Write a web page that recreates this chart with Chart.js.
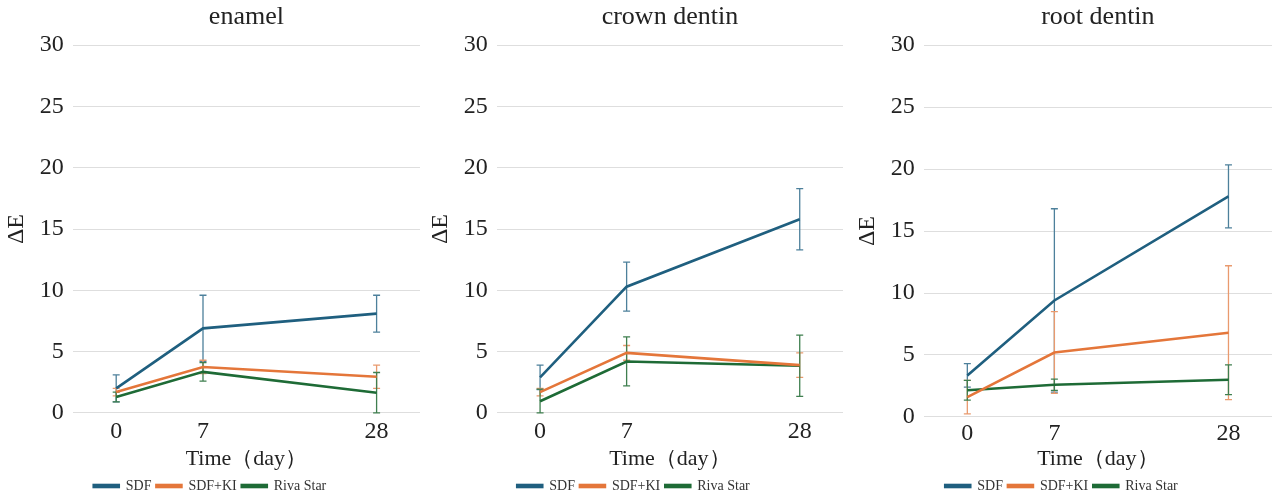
<!DOCTYPE html>
<html>
<head>
<meta charset="utf-8">
<script src="https://cdn.jsdelivr.net/npm/chart.js@4"></script>
<style>
  body { margin: 0; background: #fff; }
  .row { display: flex; width: 1272px; height: 497px; }
  .cell { position: relative; width: 424px; height: 497px; }
</style>
</head>
<body>
<div class="row">
  <div class="cell"><canvas id="c1"></canvas></div>
  <div class="cell"><canvas id="c2"></canvas></div>
  <div class="cell"><canvas id="c3"></canvas></div>
</div>
<script>
// time points and axis slots (28 sits two slots after 7)
const days = ['0', '7', '28'];
const slots = ['0', '7', '', '28'];
const seriesNames = ['SDF', 'SDF+KI', 'Riva Star'];
const panelTitles = ['enamel', 'crown dentin', 'root dentin'];

// enamel
const enamelSDF = [2.0, 6.9, 8.1];
const enamelSDFErr = [1.1, 2.7, 1.5];
const enamelKI = [1.7, 3.75, 2.95];
const enamelKIErr = [0.3, 0.55, 0.95];
const enamelRiva = [1.3, 3.35, 1.65];
const enamelRivaErr = [0.4, 0.75, 1.65];

// crown dentin
const crownSDF = [2.9, 10.3, 15.8];
const crownSDFErr = [1.0, 2.0, 2.5];
const crownKI = [1.7, 4.9, 3.9];
const crownKIErr = [0.3, 0.6, 1.0];
const crownRiva = [0.95, 4.2, 3.85];
const crownRivaErr = [1.0, 2.0, 2.5];

// root dentin
const rootSDF = [3.35, 9.4, 17.8];
const rootSDFErr = [0.95, 7.4, 2.55];
const rootKI = [1.6, 5.2, 6.8];
const rootKIErr = [1.35, 3.3, 5.4];
const rootRiva = [2.15, 2.6, 3.0];
const rootRivaErr = [0.8, 0.45, 1.2];

const lineColors = ['#1f5f7f', '#e4763a', '#1e6b36'];
const errColors = ['#4d809b', '#e99a6e', '#3f7f4f'];

Chart.defaults.font.family = "'Liberation Serif', 'DejaVu Serif', serif";
Chart.defaults.color = '#2a2a2a';

// simple error bar plugin: vertical line + caps
const errorBars = {
  id: 'errorBars',
  beforeDatasetsDraw(chart) {
    const ctx = chart.ctx;
    const yScale = chart.scales.y;
    chart.data.datasets.forEach((ds, di) => {
      const meta = chart.getDatasetMeta(di);
      ctx.save();
      ctx.strokeStyle = ds.errColor;
      ctx.lineWidth = 1.3;
      meta.data.forEach((pt, i) => {
        const v = ds.data[i].y;
        const e = ds.errors[i];
        const yTop = yScale.getPixelForValue(v + e);
        const yBot = yScale.getPixelForValue(Math.max(v - e, 0));
        ctx.beginPath();
        ctx.moveTo(pt.x, yTop);
        ctx.lineTo(pt.x, yBot);
        ctx.moveTo(pt.x - 3.5, yTop);
        ctx.lineTo(pt.x + 3.5, yTop);
        ctx.moveTo(pt.x - 3.5, yBot);
        ctx.lineTo(pt.x + 3.5, yBot);
        ctx.stroke();
      });
      ctx.restore();
    });
  }
};

function makePanel(id, title, values, errors, pad, tickPad) {
  const datasets = values.map((vals, k) => ({
    label: seriesNames[k],
    data: days.map((d, i) => ({ x: d, y: vals[i] })),
    errors: errors[k],
    errColor: errColors[k],
    borderColor: lineColors[k],
    backgroundColor: lineColors[k],
    borderWidth: 2.6,
    pointRadius: 0,
    tension: 0
  }));

  new Chart(document.getElementById(id), {
    type: 'line',
    data: { labels: slots, datasets: datasets },
    plugins: [errorBars],
    options: {
      responsive: true,
      maintainAspectRatio: false,
      animation: false,
      layout: { padding: pad },
      plugins: {
        title: {
          display: true,
          fullSize: false,
          text: title,
          font: { size: 26, weight: 'normal' },
          color: '#222',
          padding: { top: 2, bottom: 12 }
        },
        legend: {
          position: 'bottom',
          labels: {
            boxWidth: 25,
            boxHeight: 2,
            padding: 5,
            font: { size: 14 },
            color: '#333'
          }
        },
        tooltip: { enabled: false }
      },
      scales: {
        x: {
          type: 'category',
          offset: true,
          grid: { display: false, drawTicks: false },
          border: { display: false },
          ticks: { font: { size: 24 }, color: '#222', padding: tickPad, autoSkip: false, maxRotation: 0 },
          title: {
            display: true,
            text: 'Time（day）',
            font: { size: 22, lineHeight: 0.83 },
            color: '#222',
            padding: { top: 0, bottom: 6 }
          }
        },
        y: {
          min: 0,
          max: 30,
          grid: { color: '#dedede', drawTicks: false, lineWidth: 1 },
          border: { display: false },
          ticks: { stepSize: 5, font: { size: 24 }, color: '#222', padding: 9 },
          title: {
            display: true,
            text: 'ΔE',
            font: { size: 24 },
            color: '#222',
            padding: { top: 2, bottom: 0 }
          }
        }
      }
    }
  });
}

makePanel('c1', panelTitles[0],
  [enamelSDF, enamelKI, enamelRiva],
  [enamelSDFErr, enamelKIErr, enamelRivaErr],
  { left: 0, right: 4, top: 0, bottom: -6 }, 4);
makePanel('c2', panelTitles[1],
  [crownSDF, crownKI, crownRiva],
  [crownSDFErr, crownKIErr, crownRivaErr],
  { left: 0, right: 5, top: 0, bottom: -6 }, 4);
makePanel('c3', panelTitles[2],
  [rootSDF, rootKI, rootRiva],
  [rootSDFErr, rootKIErr, rootRivaErr],
  { left: 3, right: 0, top: 0, bottom: -6 }, 2);
</script>
</body>
</html>
